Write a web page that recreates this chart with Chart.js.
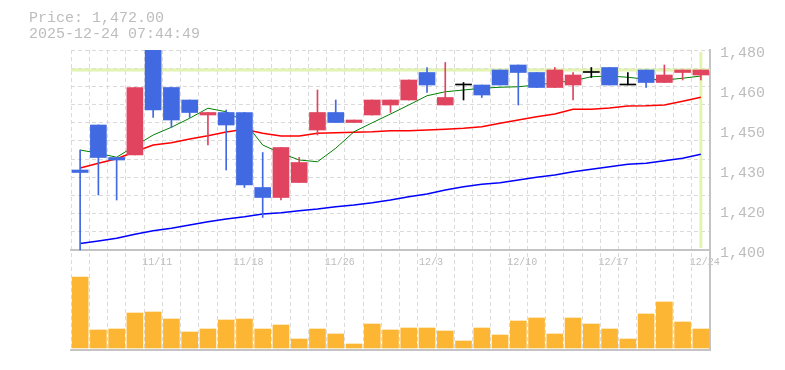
<!DOCTYPE html>
<html>
<head>
<meta charset="utf-8">
<script src="https://cdn.jsdelivr.net/npm/chart.js@4.4.1/dist/chart.umd.min.js"></script>
<style>
  body { margin: 0; background: #fff; }
</style>
</head>
<body>
<canvas id="priceChart" width="785" height="370"></canvas>
<script>
// daily bars, 11/5 .. 12/24
const dates = ['11/5', '11/6', '11/7', '11/10', '11/11', '11/12', '11/13', '11/14', '11/17', '11/18',
  '11/19', '11/20', '11/21', '11/25', '11/26', '11/27', '11/28', '12/1', '12/2', '12/3',
  '12/4', '12/5', '12/8', '12/9', '12/10', '12/11', '12/12', '12/15', '12/16', '12/17',
  '12/18', '12/19', '12/22', '12/23', '12/24'];
const opens = [1432, 1450, 1437, 1438, 1480, 1465, 1460, 1454, 1455, 1455,
  1425, 1421, 1427, 1448, 1455, 1451, 1454, 1458, 1460, 1471,
  1458, 1466, 1466, 1472, 1474, 1471, 1465, 1466, 1471, 1473,
  1466, 1472, 1467, 1471, 1470];
const highs = [1440, 1450, 1437, 1465, 1480, 1465, 1460, 1455, 1456, 1455,
  1439, 1441, 1437, 1464, 1460, 1452, 1460, 1460, 1468, 1473,
  1475, 1467, 1466, 1472, 1474, 1471, 1473, 1471, 1473, 1473,
  1471, 1472, 1474, 1472, 1472];
const lows = [1400, 1422, 1420, 1438, 1453, 1449, 1453, 1442, 1432, 1425,
  1413, 1420, 1427, 1446, 1451, 1451, 1454, 1455, 1460, 1463,
  1458, 1460, 1461, 1466, 1458, 1465, 1465, 1460, 1469, 1466,
  1466, 1465, 1467, 1468, 1468];
const closes = [1431, 1437, 1436, 1465, 1456, 1452, 1455, 1455, 1450, 1426,
  1421, 1441, 1435, 1455, 1451, 1452, 1460, 1460, 1468, 1466,
  1461, 1466, 1462, 1466, 1471, 1465, 1472, 1470, 1471, 1466,
  1466, 1467, 1470, 1472, 1472];
// volume, thousand shares
const volumes = [142, 36, 38, 70, 72, 58, 32, 38, 56, 58,
  38, 46, 18, 38, 28, 8, 48, 36, 40, 40,
  34, 14, 40, 26, 54, 60, 28, 60, 48, 38,
  18, 68, 92, 52, 38];
// moving averages
const ma5 = [1440.0, 1438.7, 1437.1, 1441.6, 1446.0, 1449.1, 1452.7, 1456.7, 1455.3, 1451.3,
  1442.0, 1438.7, 1436.0, 1435.3, 1440.7, 1447.3, 1450.9, 1454.4, 1458.0, 1461.7,
  1463.3, 1464.0, 1464.7, 1465.1, 1465.3, 1466.0, 1466.9, 1467.7, 1469.3, 1469.6,
  1469.1, 1468.3, 1468.0, 1468.7, 1469.6];
const ma25 = [1432.8, 1434.7, 1436.5, 1439.3, 1442.0, 1442.9, 1444.4, 1445.7, 1447.2, 1448.3,
  1446.7, 1445.6, 1445.6, 1446.7, 1446.9, 1447.1, 1447.3, 1447.7, 1447.7, 1448.0,
  1448.3, 1448.7, 1449.3, 1450.7, 1452.0, 1453.3, 1454.4, 1456.3, 1456.3, 1456.8,
  1457.6, 1457.7, 1458.0, 1459.5, 1461.1];
const ma75 = [1402.6, 1403.6, 1404.7, 1406.3, 1407.7, 1408.7, 1410.0, 1411.3, 1412.4, 1413.3,
  1414.4, 1414.9, 1415.7, 1416.4, 1417.3, 1418.0, 1418.9, 1420.0, 1421.3, 1422.4,
  1424.0, 1425.3, 1426.3, 1426.9, 1428.0, 1429.1, 1430.0, 1431.3, 1432.3, 1433.3,
  1434.3, 1434.7, 1435.7, 1436.7, 1438.3];
const lastPrice = 1472;
const priceMin = 1400;
const priceMax = 1480;
const priceTicks = [1400, 1416, 1432, 1448, 1464, 1480];
const titleLines = ['Price: 1,472.00', '2025-12-24 07:44:49'];

const upColor = '#e0445e';
const downColor = '#4169e1';
const flatColor = '#000000';
const textColor = '#bdbdbd';
const gridColor = '#dadada';
const frameColor = '#c4c4c4';

Chart.defaults.font.family = "'Liberation Mono', monospace";

function candleColor(ctx) {
  const i = ctx.dataIndex;
  if (closes[i] > opens[i]) return upColor;
  if (closes[i] < opens[i]) return downColor;
  return flatColor;
}

// current price / last bar crosshair, behind the candles
const crosshair = {
  id: 'crosshair',
  beforeDatasetsDraw(chart) {
    const { ctx, chartArea, scales } = chart;
    const x = scales.x.getPixelForValue(dates.length - 1);
    const y = scales.y.getPixelForValue(lastPrice);
    ctx.save();
    ctx.strokeStyle = '#e2f4b0';
    ctx.lineWidth = 3;
    ctx.beginPath();
    ctx.moveTo(chartArea.left, y);
    ctx.lineTo(chartArea.right, y);
    ctx.moveTo(x, scales.y.getPixelForValue(priceMax) + 2);
    ctx.lineTo(x, scales.y.getPixelForValue(priceMin) - 2);
    ctx.stroke();
    ctx.restore();
  }
};

const ctx = document.getElementById('priceChart').getContext('2d');

new Chart(ctx, {
  type: 'bar',
  data: {
    labels: dates,
    datasets: [
      { type: 'line', data: ma5, borderColor: '#008000', borderWidth: 1, pointRadius: 0, yAxisID: 'y', xAxisID: 'x', order: 3 },
      { type: 'line', data: ma25, borderColor: '#ff0000', borderWidth: 1.5, pointRadius: 0, yAxisID: 'y', xAxisID: 'x', order: 3 },
      { type: 'line', data: ma75, borderColor: '#0000ff', borderWidth: 1.5, pointRadius: 0, yAxisID: 'y', xAxisID: 'x', order: 3 },
      {
        data: lows.map((l, i) => [l, highs[i]]),
        backgroundColor: candleColor, barThickness: 1, grouped: false,
        yAxisID: 'y', xAxisID: 'x', order: 2
      },
      {
        data: opens.map((o, i) => [o, closes[i]]),
        backgroundColor: candleColor, barThickness: 16, minBarLength: 1, grouped: false,
        yAxisID: 'y', xAxisID: 'x', order: 1
      },
      {
        data: volumes,
        backgroundColor: '#fdb634', barThickness: 16, grouped: false,
        yAxisID: 'yv', xAxisID: 'x', order: 1
      }
    ]
  },
  options: {
    responsive: false,
    animation: false,
    layout: { padding: { left: 29, top: 0, right: 0, bottom: 20 } },
    plugins: {
      legend: { display: false },
      tooltip: { enabled: false },
      title: {
        display: true,
        text: titleLines,
        align: 'start',
        color: textColor,
        font: { size: 15, weight: 'normal', lineHeight: 16 / 15 },
        padding: { top: 10, bottom: 8 }
      }
    },
    scales: {
      x: {
        type: 'category',
        axis: 'x',
        position: { y: priceMin },
        offset: true,
        grid: { offset: true, color: gridColor, drawTicks: false },
        border: { display: true, color: frameColor, width: 2, dash: [4, 3] },
        ticks: {
          autoSkip: false,
          maxRotation: 0,
          padding: 6,
          labelOffset: 4,
          color: textColor,
          font: { size: 10 },
          callback: (v, i) => ((dates.length - 1 - i) % 5 === 0 ? dates[i] : '')
        }
      },
      xb: {
        type: 'category',
        axis: 'x',
        position: 'bottom',
        offset: true,
        grid: { display: false, drawTicks: false },
        border: { display: true, color: frameColor, width: 2 },
        ticks: { display: false }
      },
      y: {
        axis: 'y',
        position: 'right',
        min: 1360,
        max: priceMax,
        grid: { display: false, drawTicks: false },
        border: { display: true, color: frameColor, width: 2 },
        afterBuildTicks: (s) => { s.ticks = priceTicks.map(v => ({ value: v })); },
        afterFit: (s) => { s.width = 75; },
        ticks: {
          padding: 10,
          labelOffset: 3,
          color: textColor,
          font: { size: 15 },
          callback: (v) => (Math.round(v / 10) * 10).toLocaleString('en-US')
        }
      },
      yg: {
        axis: 'y',
        position: 'right',
        min: 1360,
        max: priceMax,
        grid: { color: gridColor, drawTicks: false },
        border: { display: false, dash: [4, 3] },
        afterBuildTicks: (s) => {
          const ticks = [];
          for (let i = 0; i <= 11; i++) ticks.push({ value: priceMin + i * (priceMax - priceMin) / 11 });
          s.ticks = ticks;
        },
        ticks: { display: false }
      },
      yv: {
        axis: 'y',
        position: 'left',
        min: -4,
        max: 596,
        grid: { display: false, drawTicks: false },
        border: { display: false },
        afterFit: (s) => { s.width = 42; },
        ticks: { display: false }
      }
    }
  },
  plugins: [crosshair]
});
</script>
</body>
</html>
